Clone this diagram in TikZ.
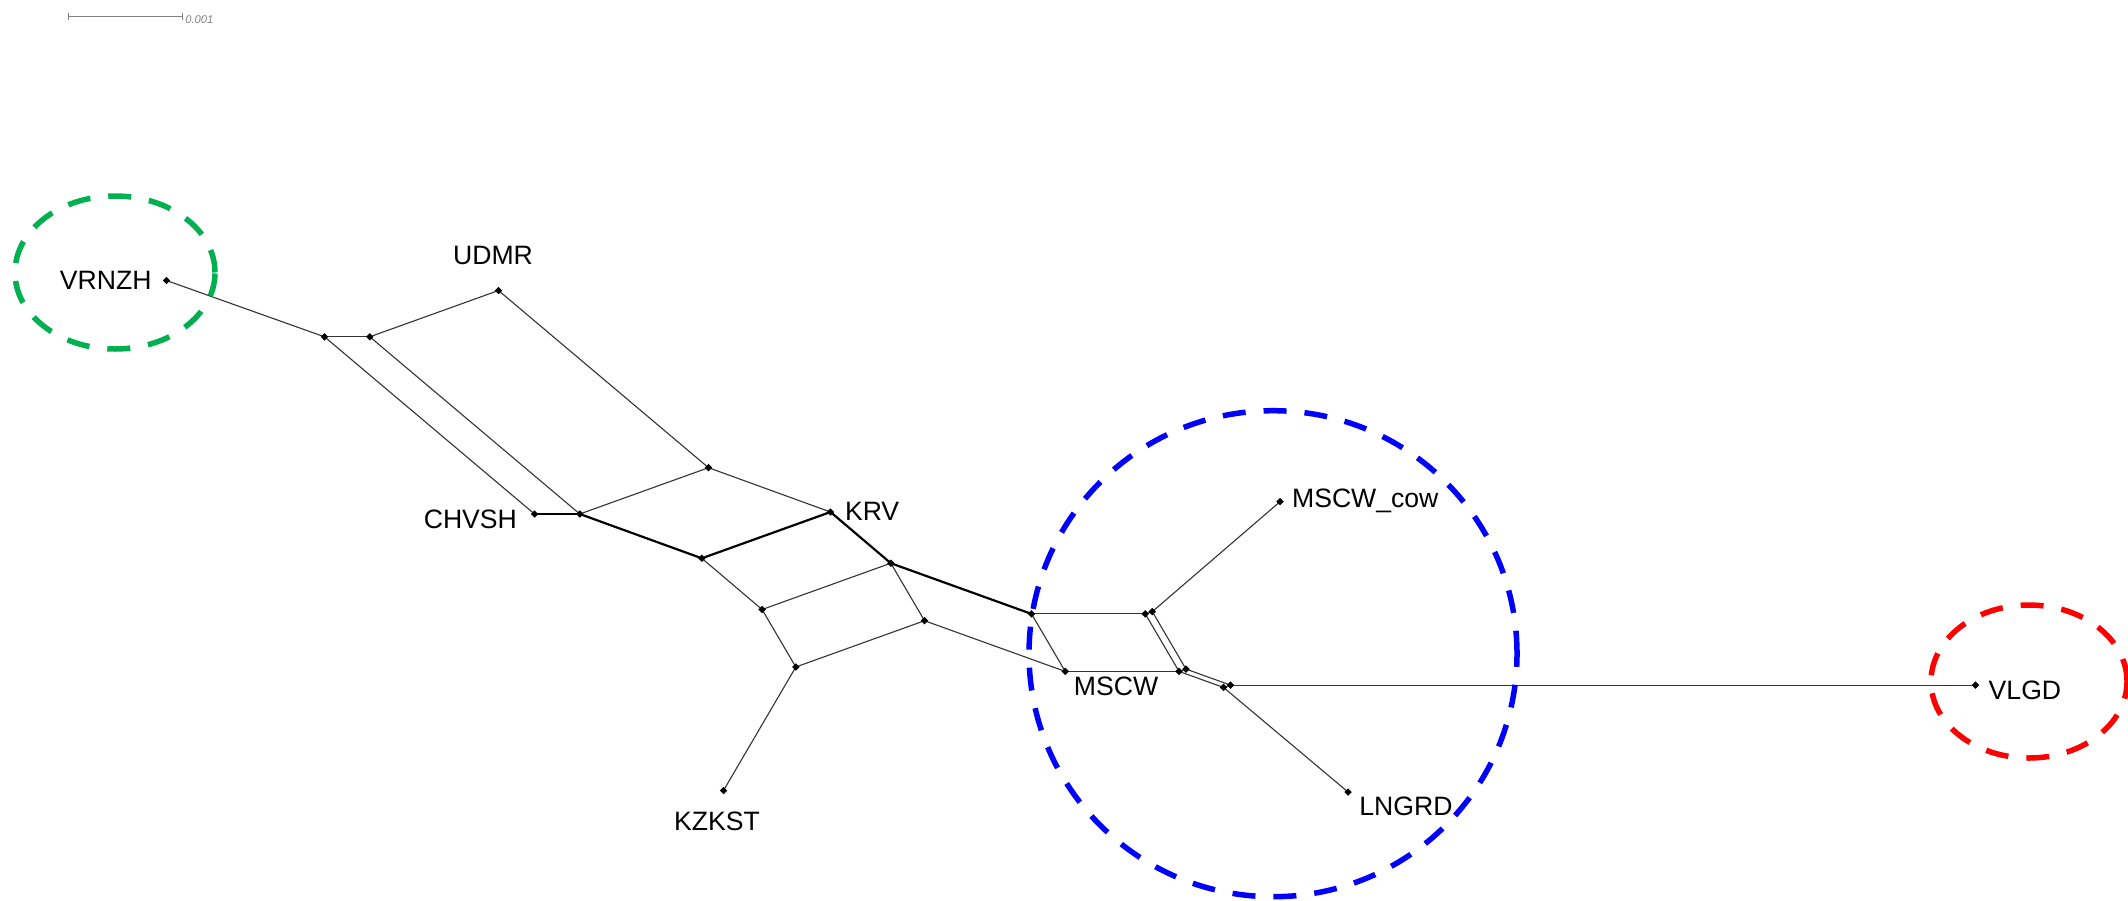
\documentclass[tikz,border=0pt]{standalone}
\usepackage{fontspec}
\setmainfont{Liberation Sans}
\usetikzlibrary{shapes.geometric}
\definecolor{ovgreen}{RGB}{0,176,80}
\definecolor{ovblue}{RGB}{0,0,255}
\definecolor{ovred}{RGB}{255,0,0}
\definecolor{scalegray}{RGB}{130,130,130}
\begin{document}
\begin{tikzpicture}[x=0.5pt,y=-0.5pt,
  dot/.style={shape=diamond,fill=black,draw=none,inner sep=0pt,minimum size=3.9pt},
  thinedge/.style={draw=black!80,line width=0.55pt},
  thickedge/.style={draw=black,line width=1.1pt},
  taxon/.style={inner sep=0pt,font=\fontsize{13.3}{16}\selectfont},
  ring/.style={line width=2.75pt,dash pattern=on 11.5pt off 9pt},
  scalebar/.style={draw=scalegray,line width=0.5pt}]
\useasboundingbox (0,0) rectangle (2128,900);
% junction and leaf positions
\coordinate (VR) at (166.5,280.5);
\coordinate (A) at (324.5,336.8);
\coordinate (B) at (369.8,336.8);
\coordinate (U) at (498.5,290.5);
\coordinate (CH) at (534.5,514.0);
\coordinate (D) at (579.8,514.0);
\coordinate (C) at (708.5,467.7);
\coordinate (E) at (701.8,558.3);
\coordinate (K) at (830.5,512.0);
\coordinate (F) at (890.8,563.2);
\coordinate (G) at (762.1,609.5);
\coordinate (H) at (924.5,620.7);
\coordinate (I) at (795.8,667.0);
\coordinate (KZ) at (723.5,790.5);
\coordinate (J) at (1031.5,613.9);
\coordinate (MS) at (1065.2,671.4);
\coordinate (P) at (1145.3,613.9);
\coordinate (P2) at (1152.3,611.6);
\coordinate (Q) at (1179.0,671.4);
\coordinate (Q2) at (1186.0,669.1);
\coordinate (R) at (1223.5,687.4);
\coordinate (R2) at (1230.5,685.1);
\coordinate (COW) at (1280,501.7);
\coordinate (LN) at (1348,792);
\coordinate (VL) at (1975.5,685.1);
% thin edges
\draw[thinedge] (VR) -- (A);
\draw[thinedge] (A) -- (B);
\draw[thinedge] (B) -- (U);
\draw[thinedge] (A) -- (CH);
\draw[thinedge] (B) -- (D);
\draw[thinedge] (U) -- (C);
\draw[thinedge] (D) -- (C);
\draw[thinedge] (C) -- (K);
\draw[thinedge] (E) -- (G);
\draw[thinedge] (G) -- (F);
\draw[thinedge] (F) -- (H);
\draw[thinedge] (G) -- (I);
\draw[thinedge] (I) -- (H);
\draw[thinedge] (I) -- (KZ);
\draw[thinedge] (H) -- (MS);
\draw[thinedge] (J) -- (MS);
\draw[thinedge] (J) -- (P);
\draw[thinedge] (MS) -- (Q);
\draw[thinedge] (P) -- (Q);
\draw[thinedge] (P2) -- (Q2);
\draw[thinedge] (P) -- (P2);
\draw[thinedge] (Q) -- (Q2);
\draw[thinedge] (Q) -- (R);
\draw[thinedge] (Q2) -- (R2);
\draw[thinedge] (R) -- (R2);
\draw[thinedge] (P2) -- (COW);
\draw[thinedge] (R) -- (LN);
\draw[thinedge] (R2) -- (VL);
% thick edges
\draw[thickedge] (CH) -- (D);
\draw[thickedge] (D) -- (E);
\draw[thickedge] (E) -- (K);
\draw[thickedge] (K) -- (F);
\draw[thickedge] (F) -- (J);
% dots
\foreach \p in {VR,A,B,U,CH,D,C,E,K,F,G,H,I,KZ,J,MS,P,P2,Q,Q2,R,R2,COW,LN,VL}
  \node[dot] (dot\p) at (\p) {};
% labels
\node[taxon,anchor=base east] (lVR) at (152,289.3) {VRNZH};
\node[taxon,anchor=base] (lU) at (493,264) {UDMR};
\node[taxon,anchor=base east] (lCH) at (517.3,528.3) {CHVSH};
\node[taxon,anchor=base west] (lK) at (844.6,520.7) {KRV};
\node[taxon,anchor=base] (lKZ) at (717,830) {KZKST};
\node[taxon,anchor=base west] (lMS) at (1073.5,695) {MSCW};
\node[taxon,anchor=base west] (lCOW) at (1291.7,507.3) {MSCW\_cow};
\node[taxon,anchor=base west] (lLN) at (1359,815) {LNGRD};
\node[taxon,anchor=base west] (lVL) at (1988.3,699.3) {VLGD};
% highlight rings
\draw[ring,draw=ovgreen] (115,272.5) ellipse [x radius=50pt,y radius=38.25pt];
\draw[ring,draw=ovblue] (1273,653.7) ellipse [x radius=122pt,y radius=121.5pt];
\draw[ring,draw=ovred] (2029,681.5) ellipse [x radius=49pt,y radius=38.25pt];
% scale bar
\coordinate (sb1) at (68.3,16);
\coordinate (sb2) at (182.3,16);
\draw[scalebar] (sb1) -- (sb2);
\draw[scalebar] ([yshift=-1.75pt]sb1) -- ([yshift=1.75pt]sb1);
\draw[scalebar] ([yshift=-1.75pt]sb2) -- ([yshift=1.75pt]sb2);
\node[inner sep=0pt,anchor=base west,text=scalegray,font=\fontsize{5.6}{7}\selectfont\itshape] (sblabel) at (185,23.3) {0.001};
\end{tikzpicture}
\end{document}
